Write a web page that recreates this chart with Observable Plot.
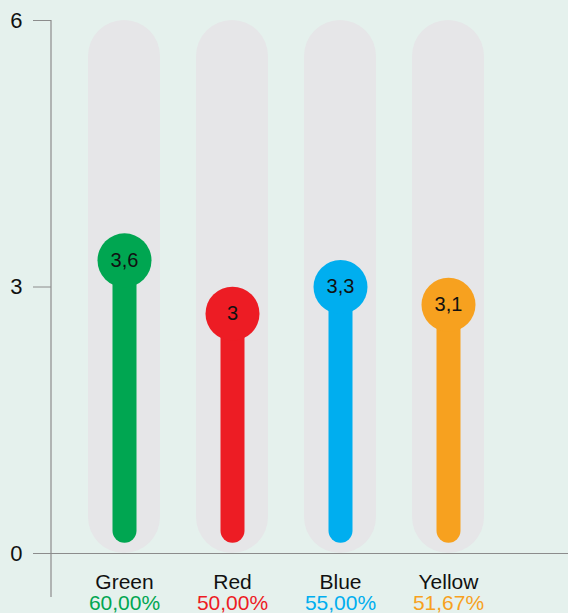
<!DOCTYPE html>
<html>
<head>
<meta charset="utf-8">
<script src="https://cdn.jsdelivr.net/npm/d3@7"></script>
<script src="https://cdn.jsdelivr.net/npm/@observablehq/plot@0.6"></script>
<style>
  html, body { margin: 0; padding: 0; background: #e5f1ed; }
  #chart svg { display: block; }
</style>
</head>
<body>
<div id="chart"></div>
<script>
const categories = ["Green", "Red", "Blue", "Yellow"];
const values = [3.6, 3.0, 3.3, 3.1];
const valueLabels = ["3,6", "3", "3,3", "3,1"];
const percentLabels = ["60,00%", "50,00%", "55,00%", "51,67%"];
const colors = ["#00a651", "#ed1c24", "#00aeef", "#f7a11f"];
const yTicks = [0, 3, 6];
const yMax = 6;
const dotOffset = 0.3;   // the dots sit slightly below their value in the original
const stemBase = 0.25;

const data = categories.map((c, i) => ({
  cat: c, value: values[i], label: valueLabels[i], pct: percentLabels[i], color: colors[i],
  yDot: values[i] - dotOffset, top: yMax
}));

const font = "Liberation Sans, Arial, sans-serif";

const plot = Plot.plot({
  width: 568,
  height: 613,
  marginLeft: 51,
  marginRight: 47,
  marginTop: 20,
  marginBottom: 60,
  style: { background: "transparent", fontFamily: font },
  x: { domain: categories, paddingInner: 0.337, paddingOuter: 0.331, axis: null },
  y: { domain: [0, yMax], axis: null },
  marks: [
    Plot.barY(data, { x: "cat", y1: 0, y2: "top", fill: "#e6e6e8", rx: 36 }),
    Plot.ruleY([0], { stroke: "#8c8c8c", strokeWidth: 1.2, insetLeft: -18, insetRight: -47 }),
    Plot.ruleX(data, { x: "cat", y1: stemBase, y2: "yDot", stroke: "color", strokeWidth: 24, strokeLinecap: "round" }),
    Plot.dot(data, { x: "cat", y: "yDot", r: 27, fill: "color", stroke: null }),
    Plot.text(data, { x: "cat", y: "yDot", text: "label", fill: "#111", fontSize: 20 }),
    Plot.text(data, { x: "cat", y: 0, text: "cat", fill: "#111", fontSize: 21, dy: 29 }),
    Plot.text(data, { x: "cat", y: 0, text: "pct", fill: "color", fontSize: 21, dy: 50 }),
    Plot.axisY({ ticks: yTicks, tickFormat: d3.format("d"), tickSize: 18, tickPadding: 11, fontSize: 22, label: null, stroke: "#8c8c8c", fill: "#111" })
  ]
});

document.getElementById("chart").appendChild(plot);

// vertical axis line
const ys = plot.scale("y");
d3.select(plot).append("line")
  .attr("x1", 51).attr("x2", 51)
  .attr("y1", ys.apply(yMax)).attr("y2", 597)
  .attr("stroke", "#8c8c8c").attr("stroke-width", 1.2);
</script>
</body>
</html>
